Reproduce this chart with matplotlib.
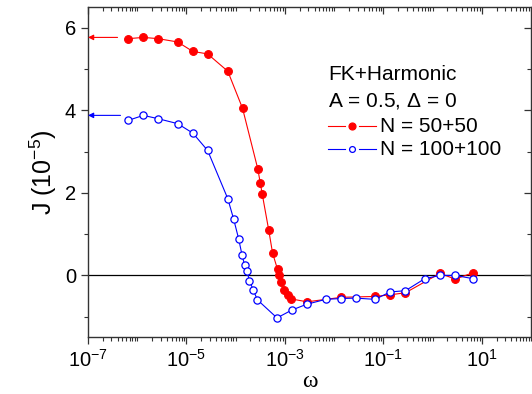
import numpy as np
import matplotlib
matplotlib.use("Agg")
import matplotlib.pyplot as plt
from matplotlib.ticker import LogLocator, MultipleLocator, NullFormatter, FixedLocator
from matplotlib.lines import Line2D

# ---- data (log10 of omega, J in 1e-5) ----
red_logw = [-6.18, -5.875, -5.577, -5.18, -4.87, -4.57, -4.16, -3.86, -3.55, -3.50,
            -3.46, -3.33, -3.25, -3.15, -3.11, -3.08, -3.01, -2.94, -2.87, -2.55,
            -1.85, -1.17, -0.86, -0.55, 0.15, 0.46, 0.83]
red_J = [5.74, 5.77, 5.74, 5.66, 5.43, 5.37, 4.95, 4.05, 2.58, 2.24,
         1.97, 1.11, 0.54, 0.15, 0.0, -0.16, -0.35, -0.47, -0.57, -0.64,
         -0.53, -0.51, -0.47, -0.42, 0.05, -0.09, 0.07]

blue_logw = [-6.18, -5.875, -5.577, -5.18, -4.87, -4.57, -4.16, -4.04, -3.94, -3.87,
             -3.82, -3.77, -3.72, -3.64, -3.56, -3.16, -2.86, -2.56, -2.17, -1.86,
             -1.56, -1.17, -0.86, -0.55, -0.16, 0.15, 0.46, 0.83]
blue_J = [3.76, 3.88, 3.80, 3.68, 3.45, 3.03, 1.86, 1.36, 0.89, 0.49,
          0.26, 0.10, -0.13, -0.36, -0.59, -1.03, -0.84, -0.70, -0.58, -0.56,
          -0.55, -0.58, -0.40, -0.37, -0.08, 0.0, 0.0, -0.08]

red_limit = 5.77
blue_limit = 3.88

red_label = "N = 50+50"
blue_label = "N = 100+100"
title_lines = ["FK+Harmonic", "A = 0.5, $\\Delta$ = 0"]
xtick_vals = [1e-7, 1e-5, 1e-3, 1e-1, 1e1]
xtick_labels = ['$10^{-7}$', '$10^{-5}$', '$10^{-3}$', '$10^{-1}$', '$10^{1}$']

plt.rcParams['font.family'] = ['Liberation Sans', 'DejaVu Sans']
plt.rcParams['mathtext.fontset'] = 'custom'
plt.rcParams['mathtext.rm'] = 'Liberation Sans'
plt.rcParams['mathtext.it'] = 'Liberation Sans'

fig = plt.figure(figsize=(5.32, 3.94), dpi=100)
ax = fig.add_axes([88/532, (394-337.3)/394, (531-88)/532, (337.3-7.3)/394])

rw = 10.0 ** np.array(red_logw)
bw = 10.0 ** np.array(blue_logw)

ax.axhline(0, color='black', lw=0.9, zorder=1)

ax.plot(rw, red_J, '-', color='red', lw=0.8, marker='o', ms=5.6,
        mfc='red', mec='red', mew=0.8, zorder=3)
ax.plot(bw, blue_J, '-', color='blue', lw=0.8, marker='o', ms=5.2,
        mfc='white', mec='blue', mew=0.9, zorder=4)

# arrows to the limiting values
ax.annotate('', xy=(1e-7, red_limit), xytext=(10**-6.40, red_limit),
            arrowprops=dict(arrowstyle='-|>', color='red', lw=0.8,
                            mutation_scale=8, shrinkA=0, shrinkB=0))
ax.annotate('', xy=(1e-7, blue_limit), xytext=(10**-6.34, blue_limit),
            arrowprops=dict(arrowstyle='-|>', color='blue', lw=0.8,
                            mutation_scale=8, shrinkA=0, shrinkB=0))

ax.set_xscale('log')
ax.set_xlim(1e-7, 1e2)
ax.set_ylim(-1.5, 6.5)

ax.xaxis.set_major_locator(FixedLocator(xtick_vals))
ax.xaxis.set_minor_locator(LogLocator(base=10, subs=np.arange(1, 10), numticks=30))
ax.xaxis.set_minor_formatter(NullFormatter())
ax.set_xticklabels(xtick_labels)
ax.yaxis.set_major_locator(MultipleLocator(2))
ax.yaxis.set_minor_locator(MultipleLocator(1))

ax.tick_params(axis='both', which='major', labelsize=14.5, direction='out',
               length=5, width=0.9, color='#333333')
ax.tick_params(axis='both', which='minor', direction='out', length=3, width=0.8, color='#333333')
ax.tick_params(top=True, right=True, which='both')
for t in ax.xaxis.get_major_ticks() + ax.xaxis.get_minor_ticks():
    t.tick2line.set_marker(matplotlib.lines.TICKDOWN)
for t in ax.yaxis.get_major_ticks() + ax.yaxis.get_minor_ticks():
    t.tick2line.set_marker(matplotlib.lines.TICKLEFT)

for s in ax.spines.values():
    s.set_linewidth(1.0)
    s.set_color('#333333')

ax.set_ylabel('J (10$^{-5}$)', fontsize=18, labelpad=4)
ax.set_xlabel('ω', fontsize=17, family=['Liberation Serif', 'DejaVu Serif'], labelpad=0)

# legend-like block
fs = 15
fig.text(328/532, 1 - 75/394, title_lines[0], fontsize=fs, va='center', ha='left')
fig.text(328/532, 1 - 101/394, title_lines[1], fontsize=fs, va='center', ha='left')
for (yy, col, mfc, lab, ms) in [(126, 'red', 'red', red_label, 5.0),
                                 (149, 'blue', 'white', blue_label, 4.2)]:
    yf = 1 - yy/394
    for (xa, xb) in [(328, 345), (359, 376)]:
        fig.add_artist(Line2D([xa/532, xb/532], [yf, yf], color=col, lw=0.8,
                              transform=fig.transFigure))
    fig.add_artist(Line2D([352/532], [yf], color=col, marker='o', ms=ms, mfc=mfc,
                          mec=col, mew=0.9, lw=0, transform=fig.transFigure))
    fig.text(380/532, yf, lab, fontsize=fs, va='center', ha='left')

fig.savefig('out.png', dpi=100)
